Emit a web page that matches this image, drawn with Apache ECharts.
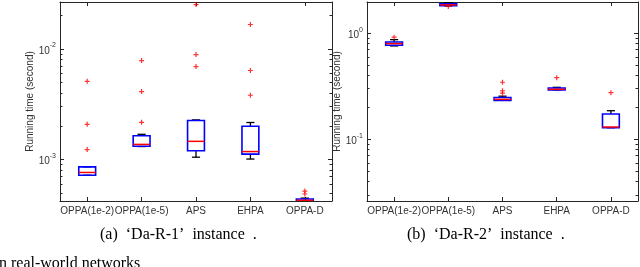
<!DOCTYPE html>
<html><head><meta charset="utf-8">
<script src="https://cdn.jsdelivr.net/npm/echarts@6/dist/echarts.min.js"></script>
<style>html,body{margin:0;padding:0;background:#fff;overflow:hidden}#c{width:640px;height:267px}</style>
</head><body><div id="c"></div>
<script>
const categories = ['OPPA(1e-2)', 'OPPA(1e-5)', 'APS', 'EHPA', 'OPPA-D'];
// box statistics: [min, Q1, median, Q3, max]
const boxR1 = [
  [7.21e-4, 7.21e-4, 7.64e-4, 8.59e-4, 8.59e-4],
  [1.31e-3, 1.32e-3, 1.37e-3, 1.64e-3, 1.69e-3],
  [1.05e-3, 1.20e-3, 1.46e-3, 2.25e-3, 2.28e-3],
  [1.01e-3, 1.12e-3, 1.18e-3, 2.00e-3, 2.16e-3],
  [4.22e-4, 4.24e-4, 4.28e-4, 4.40e-4, 4.48e-4]
];
// outliers: [category index, value]
const outR1 = [
  [0, 5.09e-3], [0, 2.08e-3], [0, 1.23e-3],
  [1, 7.84e-3], [1, 4.11e-3], [1, 2.17e-3],
  [2, 2.51e-2], [2, 8.88e-3], [2, 6.92e-3],
  [3, 1.66e-2], [3, 6.37e-3], [3, 3.81e-3],
  [4, 5.19e-4], [4, 4.88e-4]
];
const boxR2 = [
  [0.759, 0.770, 0.798, 0.828, 0.870],
  [1.81, 1.82, 1.85, 1.89, 1.94],
  [0.233, 0.233, 0.238, 0.248, 0.255],
  [0.292, 0.292, 0.296, 0.305, 0.309],
  [0.1286, 0.1286, 0.1306, 0.173, 0.186]
];
const outR2 = [
  [0, 0.917], [1, 1.79],
  [2, 0.345], [2, 0.287], [2, 0.272],
  [3, 0.381], [4, 0.275]
];
const yRange1 = [4.22e-4, 0.0265];
const yRange2 = [0.0262, 1.97];
const majors1 = [1e-3, 1e-2];
const minors1 = [5e-4,6e-4,7e-4,8e-4,9e-4,2e-3,3e-3,4e-3,5e-3,6e-3,7e-3,8e-3,9e-3,2e-2];
const majors2 = [1e-1, 1];
const minors2 = [3e-2,4e-2,5e-2,6e-2,7e-2,8e-2,9e-2,2e-1,3e-1,4e-1,5e-1,6e-1,7e-1,8e-1,9e-1];
const yName = 'Running time (second)';
const captions = ['(a)  \u2018Da-R-1\u2019  instance  .', '(b)  \u2018Da-R-2\u2019  instance  .'];
const footText = 'n real-world networks';

const AX = '#262626', TX = '#333';
function yAxes(g, range, majors, minors, nameGap) {
  const base = { type: 'log', logBase: 10, gridIndex: g, min: range[0], max: range[1], splitLine: { show: false } };
  return [
    Object.assign({}, base, {
      position: 'left',
      axisLine: { show: true, lineStyle: { color: AX, width: 1 } },
      axisTick: { show: true, inside: true, length: 4, customValues: majors, lineStyle: { color: AX } },
      axisLabel: {
        show: true, customValues: majors, margin: 4,
        formatter: v => '{b|10}{s|' + Math.round(Math.log10(v)) + '}',
        rich: {
          b: { fontSize: 10, fontFamily: 'Liberation Sans', color: TX, lineHeight: 14, verticalAlign: 'bottom' },
          s: { fontSize: 7, fontFamily: 'Liberation Sans', color: TX, lineHeight: 8, verticalAlign: 'top' }
        }
      },
      name: yName, nameLocation: 'middle', nameGap: nameGap,
      nameTextStyle: { fontSize: 10, fontFamily: 'Liberation Sans', color: TX }
    }),
    Object.assign({}, base, {
      position: 'left', axisLine: { show: false },
      axisTick: { show: true, inside: true, length: 2.5, customValues: minors, lineStyle: { color: AX } },
      axisLabel: { show: false }
    }),
    Object.assign({}, base, {
      position: 'right', axisLine: { show: true, lineStyle: { color: AX, width: 1 } },
      axisTick: { show: true, inside: true, length: 4, customValues: majors, lineStyle: { color: AX } },
      axisLabel: { show: false }
    }),
    Object.assign({}, base, {
      position: 'right', axisLine: { show: false },
      axisTick: { show: true, inside: true, length: 2.5, customValues: minors, lineStyle: { color: AX } },
      axisLabel: { show: false }
    })
  ];
}
function xAxes(g) {
  return [
    { type: 'category', gridIndex: g, data: categories, position: 'bottom', boundaryGap: true,
      axisLine: { show: true, lineStyle: { color: AX, width: 1 } },
      axisTick: { show: true, inside: true, length: 4, alignWithLabel: true, lineStyle: { color: AX } },
      axisLabel: { show: true, interval: 0, fontSize: 10, fontFamily: 'Liberation Sans', color: TX, margin: 5 } },
    { type: 'category', gridIndex: g, data: categories, position: 'top', boundaryGap: true,
      axisLine: { show: true, lineStyle: { color: AX, width: 1 } },
      axisTick: { show: true, inside: true, length: 4, alignWithLabel: true, lineStyle: { color: AX } },
      axisLabel: { show: false } }
  ];
}
function renderBox(params, api) {
  const i = api.value(0);
  const pMin = api.coord([i, api.value(1)]);
  const pQ1 = api.coord([i, api.value(2)]);
  const pMed = api.coord([i, api.value(3)]);
  const pQ3 = api.coord([i, api.value(4)]);
  const pMax = api.coord([i, api.value(5)]);
  const band = api.size([1, 0], [i, 1])[0];
  const hw = band * 0.155, cw = band * 0.075;
  const x = pMed[0];
  const ch = [];
  const blk = { stroke: '#000', lineWidth: 1.3 };
  if (pMax[1] < pQ3[1] - 0.5) {
    ch.push({ type: 'line', shape: { x1: x, y1: pQ3[1], x2: x, y2: pMax[1] }, style: blk });
  }
  ch.push({ type: 'line', shape: { x1: x - cw, y1: pMax[1], x2: x + cw, y2: pMax[1] }, style: blk });
  if (pMin[1] > pQ1[1] + 0.5) {
    ch.push({ type: 'line', shape: { x1: x, y1: pQ1[1], x2: x, y2: pMin[1] }, style: blk });
  }
  ch.push({ type: 'line', shape: { x1: x - cw, y1: pMin[1], x2: x + cw, y2: pMin[1] }, style: blk });
  ch.push({ type: 'rect', shape: { x: x - hw, y: pQ3[1], width: 2 * hw, height: pQ1[1] - pQ3[1] },
    style: { fill: 'none', stroke: '#0000ff', lineWidth: 1.6 } });
  ch.push({ type: 'line', shape: { x1: x - hw, y1: pMed[1], x2: x + hw, y2: pMed[1] },
    style: { stroke: '#ff0000', lineWidth: 1.5 } });
  return { type: 'group', children: ch };
}
const plusPath = 'path://M3.8,0H6.2V3.8H10V6.2H6.2V10H3.8V6.2H0V3.8H3.8Z';
function series(g, box, out) {
  return [
    { type: 'custom', xAxisIndex: 2 * g, yAxisIndex: 4 * g, clip: true,
      data: box.map((b, i) => [i].concat(b)), encode: { x: 0, y: [1, 2, 3, 4, 5] },
      renderItem: renderBox, z: 3, silent: true },
    { type: 'scatter', xAxisIndex: 2 * g, yAxisIndex: 4 * g, data: out, symbol: plusPath, symbolSize: 5,
      itemStyle: { color: '#ff0000' }, z: 4, silent: true }
  ];
}
const chart = echarts.init(document.getElementById('c'), null, { renderer: 'canvas' });
chart.setOption({
  animation: false,
  backgroundColor: '#fff',
  grid: [
    { left: 60, top: 2, width: 272, height: 199 },
    { left: 367, top: 2, width: 271, height: 199 }
  ],
  xAxis: xAxes(0).concat(xAxes(1)),
  yAxis: yAxes(0, yRange1, majors1, minors1, 23).concat(yAxes(1, yRange2, majors2, minors2, 24)),
  series: series(0, boxR1, outR1).concat(series(1, boxR2, outR2)),
  graphic: [
    { type: 'text', left: 100, top: 227, style: { text: captions[0], font: '16px "Liberation Serif"', fill: '#000' } },
    { type: 'text', left: 407, top: 227, style: { text: captions[1], font: '16px "Liberation Serif"', fill: '#000' } },
    { type: 'text', left: -1, top: 256, style: { text: footText, font: '16px "Liberation Serif"', fill: '#000' } }
  ]
});
</script></body></html>
